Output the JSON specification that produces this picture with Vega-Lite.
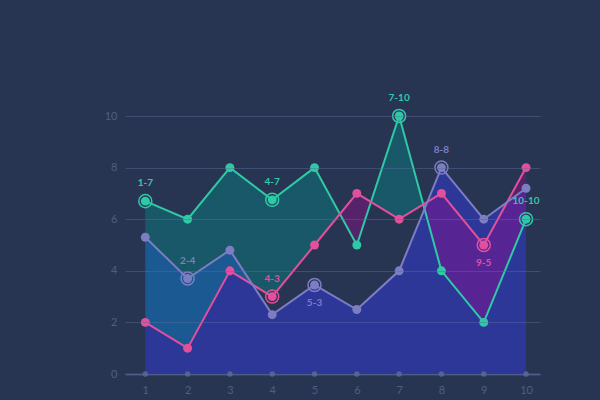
{
  "$schema": "https://vega.github.io/schema/vega-lite/v6.json",
  "width": 415,
  "height": 258,
  "autosize": {"type": "none"},
  "padding": {"left": 125, "top": 116, "right": 60, "bottom": 26},
  "background": "#283552",
  "config": {"view": {"stroke": null}, "font": "Lato"},
  "data": {"values": [
    {"x": 1, "series": "green", "y": 6.7, "label": "1-7"},
    {"x": 2, "series": "green", "y": 6},
    {"x": 3, "series": "green", "y": 8},
    {"x": 4, "series": "green", "y": 6.75, "label": "4-7"},
    {"x": 5, "series": "green", "y": 8},
    {"x": 6, "series": "green", "y": 5},
    {"x": 7, "series": "green", "y": 10, "label": "7-10"},
    {"x": 8, "series": "green", "y": 4},
    {"x": 9, "series": "green", "y": 2},
    {"x": 10, "series": "green", "y": 6, "label": "10-10"},
    {"x": 1, "series": "pink", "y": 2},
    {"x": 2, "series": "pink", "y": 1},
    {"x": 3, "series": "pink", "y": 4},
    {"x": 4, "series": "pink", "y": 3, "label": "4-3"},
    {"x": 5, "series": "pink", "y": 5},
    {"x": 6, "series": "pink", "y": 7},
    {"x": 7, "series": "pink", "y": 6},
    {"x": 8, "series": "pink", "y": 7},
    {"x": 9, "series": "pink", "y": 5, "label": "9-5"},
    {"x": 10, "series": "pink", "y": 8},
    {"x": 1, "series": "purple", "y": 5.3},
    {"x": 2, "series": "purple", "y": 3.7, "label": "2-4"},
    {"x": 3, "series": "purple", "y": 4.8},
    {"x": 4, "series": "purple", "y": 2.3},
    {"x": 5, "series": "purple", "y": 3.45, "label": "5-3"},
    {"x": 6, "series": "purple", "y": 2.5},
    {"x": 7, "series": "purple", "y": 4},
    {"x": 8, "series": "purple", "y": 8, "label": "8-8"},
    {"x": 9, "series": "purple", "y": 6},
    {"x": 10, "series": "purple", "y": 7.2}
  ]},
  "encoding": {
    "x": {
      "field": "x", "type": "quantitative",
      "scale": {"domain": [0.52, 10.33], "nice": false, "zero": false},
      "axis": {
        "values": [1, 2, 3, 4, 5, 6, 7, 8, 9, 10], "format": "d", "title": null,
        "grid": false, "ticks": false, "domain": true, "domainColor": "#46537a", "domainWidth": 2,
        "labelColor": "#4f5d86", "labelFontSize": 11, "labelPadding": 10
      }
    },
    "y": {
      "field": "y", "type": "quantitative",
      "scale": {"domain": [0, 10], "nice": false},
      "axis": {
        "values": [0, 2, 4, 6, 8, 10], "title": null, "grid": true, "gridColor": "#5a6a98", "gridOpacity": 0.45,
        "ticks": false, "domain": false, "labelColor": "#4f5d86", "labelFontSize": 11, "labelPadding": 8, "zindex": 1
      }
    }
  },
  "layer": [
    {"transform": [{"filter": "datum.series == 'purple'"}], "mark": {"type": "area", "color": "#2c3798", "opacity": 1}, "encoding": {}},
    {
      "transform": [{"pivot": "series", "value": "y", "groupby": ["x"]}],
      "mark": {
        "type": "area",
        "fillOpacity": 0.4,
        "color": {
          "gradient": "linear", "x1": 0, "x2": 1, "y1": 0, "y2": 0,
          "stops": [
            {"offset": 0, "color": "#008c88"},
            {"offset": 0.5111, "color": "#008c88"},
            {"offset": 0.5111, "color": "#98088c"},
            {"offset": 0.5926, "color": "#98088c"},
            {"offset": 0.5926, "color": "#008c88"},
            {"offset": 0.7302, "color": "#008c88"},
            {"offset": 0.7302, "color": "#98088c"},
            {"offset": 1, "color": "#98088c"}
          ]
        }
      },
      "encoding": {
        "y": {"field": "green", "type": "quantitative", "axis": {"title": null}},
        "y2": {"field": "pink"}
      }
    },
    {"transform": [{"filter": "datum.series == 'green'"}], "mark": {"type": "point", "filled": true, "color": "#56638c", "size": 30, "opacity": 1}, "encoding": {"y": {"datum": 0}}},
    {
      "mark": {"type": "line", "strokeWidth": 2},
      "encoding": {
        "color": {"field": "series", "type": "nominal", "legend": null,
          "scale": {"domain": ["green", "pink", "purple"], "range": ["#30c9a6", "#e2509c", "#7d7dc4"]}},
        "order": {"field": "x"}
      }
    },
    {
      "mark": {"type": "point", "filled": true, "size": 80, "opacity": 1},
      "encoding": {
        "color": {"field": "series", "type": "nominal", "legend": null,
          "scale": {"domain": ["green", "pink", "purple"], "range": ["#30c9a6", "#e2509c", "#7d7dc4"]}}
      }
    },
    {
      "transform": [{"filter": "isValid(datum.label)"}],
      "mark": {"type": "point", "filled": false, "size": 170, "strokeWidth": 1.5, "opacity": 1},
      "encoding": {
        "color": {"field": "series", "type": "nominal", "legend": null,
          "scale": {"domain": ["green", "pink", "purple"], "range": ["#30c9a6", "#e2509c", "#7d7dc4"]}}
      }
    },
    {
      "transform": [{"filter": "isValid(datum.label) && datum.label != '5-3' && datum.label != '9-5'"}],
      "mark": {"type": "text", "fontSize": 10, "fontWeight": "bold", "dy": -18},
      "encoding": {
        "text": {"field": "label"},
        "color": {"field": "series", "type": "nominal", "legend": null,
          "scale": {"domain": ["green", "pink", "purple"], "range": ["#30c9a6", "#e2509c", "#7d7dc4"]}}
      }
    },
    {
      "transform": [{"filter": "datum.label == '5-3' || datum.label == '9-5'"}],
      "mark": {"type": "text", "fontSize": 10, "fontWeight": "bold", "dy": 18},
      "encoding": {
        "text": {"field": "label"},
        "color": {"field": "series", "type": "nominal", "legend": null,
          "scale": {"domain": ["green", "pink", "purple"], "range": ["#30c9a6", "#e2509c", "#7d7dc4"]}}
      }
    }
  ]
}
